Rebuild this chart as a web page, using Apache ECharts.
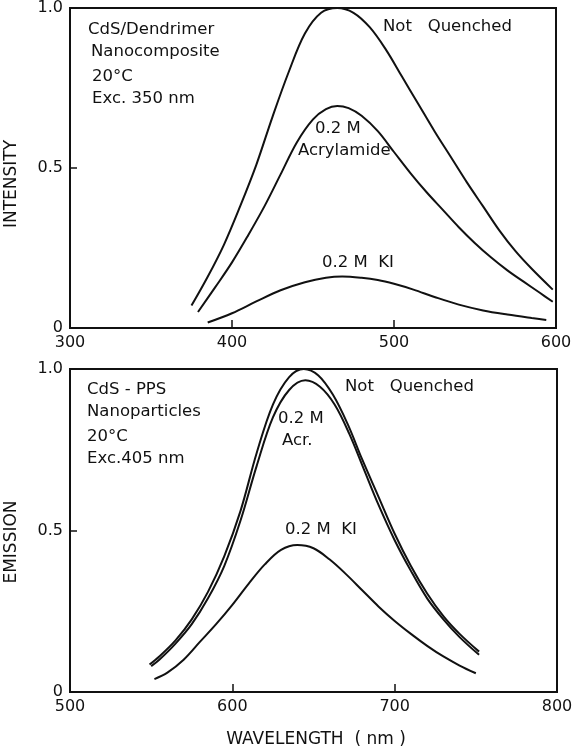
<!DOCTYPE html>
<html><head><meta charset="utf-8">
<script src="https://cdn.jsdelivr.net/npm/echarts@6/dist/echarts.min.js"></script>
<style>html,body{margin:0;padding:0;background:#fff}#c{width:579px;height:750px}</style>
</head><body><div id="c"></div>
<script>
// ---- Top panel: CdS/Dendrimer nanocomposite (intensity vs wavelength) ----
const topXTicks = [300, 400, 500, 600];
const topNqX  = [375, 385, 395, 405, 415, 425, 435, 445, 455, 465, 475, 485, 495, 505, 515, 525, 535, 545, 555, 565, 575, 585, 598];
const topNqY  = [0.07, 0.16, 0.26, 0.38, 0.51, 0.66, 0.80, 0.92, 0.985, 1.0, 0.985, 0.94, 0.87, 0.785, 0.70, 0.615, 0.535, 0.455, 0.38, 0.305, 0.24, 0.185, 0.12];
const topAcrX = [379, 390, 400, 410, 420, 430, 440, 450, 458, 465, 472, 480, 490, 500, 510, 520, 530, 540, 550, 560, 570, 580, 590, 598];
const topAcrY = [0.05, 0.13, 0.205, 0.29, 0.38, 0.48, 0.58, 0.652, 0.684, 0.694, 0.687, 0.663, 0.615, 0.55, 0.485, 0.425, 0.37, 0.315, 0.265, 0.22, 0.18, 0.145, 0.11, 0.082];
const topKiX  = [385, 400, 415, 430, 445, 458, 468, 480, 490, 500, 512, 525, 540, 555, 570, 585, 594];
const topKiY  = [0.017, 0.046, 0.083, 0.118, 0.143, 0.157, 0.161, 0.157, 0.15, 0.138, 0.12, 0.097, 0.073, 0.055, 0.042, 0.031, 0.025];

// ---- Bottom panel: CdS-PPS nanoparticles (emission vs wavelength) ----
const botXTicks = [500, 600, 700, 800];
const botNqX  = [549, 555, 565, 575, 585, 595, 605, 615, 625, 635, 644, 653, 662, 671, 680, 690, 700, 710, 720, 730, 740, 752];
const botNqY  = [0.085, 0.11, 0.16, 0.225, 0.31, 0.42, 0.56, 0.74, 0.89, 0.975, 1.0, 0.98, 0.92, 0.83, 0.72, 0.605, 0.49, 0.39, 0.305, 0.235, 0.18, 0.125];
const botAcrX = [550, 555, 565, 575, 585, 595, 605, 615, 625, 635, 645, 654, 663, 672, 681, 690, 700, 710, 720, 730, 740, 752];
const botAcrY = [0.08, 0.10, 0.15, 0.21, 0.29, 0.39, 0.53, 0.70, 0.85, 0.935, 0.965, 0.945, 0.89, 0.80, 0.69, 0.58, 0.47, 0.375, 0.29, 0.225, 0.17, 0.115];
const botKiX  = [552, 560, 570, 580, 590, 600, 610, 620, 630, 640, 650, 660, 670, 680, 690, 700, 710, 720, 730, 740, 750];
const botKiY  = [0.04, 0.06, 0.1, 0.155, 0.21, 0.27, 0.335, 0.395, 0.44, 0.455, 0.445, 0.41, 0.365, 0.315, 0.265, 0.22, 0.18, 0.143, 0.11, 0.082, 0.058];

const zip = (xs, ys) => xs.map((x, i) => [x, ys[i]]);

const FONT = 'DejaVu Sans';
const black = '#111';

function xAxis(gi, ticks) {
  return {
    type: 'value', gridIndex: gi, min: ticks[0], max: ticks[ticks.length - 1], interval: 100,
    axisLine: { show: true, lineStyle: { color: black, width: 2 } },
    axisTick: { show: true, inside: true, length: 8, lineStyle: { color: black, width: 1.5 } },
    axisLabel: { color: black, fontSize: 16, fontFamily: FONT, margin: 7 },
    splitLine: { show: false }
  };
}
function yAxis(gi) {
  return {
    type: 'value', gridIndex: gi, min: 0, max: 1, interval: 0.5,
    axisLine: { show: true, lineStyle: { color: black, width: 2 } },
    axisTick: { show: true, inside: true, length: 7, lineStyle: { color: black, width: 1.5 } },
    axisLabel: { color: black, fontSize: 16, fontFamily: FONT, margin: 7,
      formatter: v => (v === 0 ? '0' : v.toFixed(1)) },
    splitLine: { show: false }
  };
}
function line(xi, data) {
  return {
    type: 'line', xAxisIndex: xi, yAxisIndex: xi, data: data, smooth: 0.35,
    showSymbol: false, silent: true,
    lineStyle: { color: black, width: 2 }
  };
}
function txt(x, y, s, size) {
  return { type: 'text', left: x, top: y, style: { text: s, font: (size || 16.5) + 'px "' + FONT + '"', fill: black } };
}
function vtxt(cx, cy, s) {
  return { type: 'text', x: cx, y: cy, rotation: Math.PI / 2,
    style: { text: s, font: '17px "' + FONT + '"', fill: black, align: 'center', verticalAlign: 'middle' } };
}

const chart = echarts.init(document.getElementById('c'), null, { renderer: 'canvas' });
chart.setOption({
  animation: false,
  backgroundColor: '#fff',
  grid: [
    { left: 70, top: 8, width: 486, height: 320, show: true, borderColor: black, borderWidth: 2, backgroundColor: 'transparent' },
    { left: 70, top: 369, width: 487, height: 323, show: true, borderColor: black, borderWidth: 2, backgroundColor: 'transparent' }
  ],
  xAxis: [xAxis(0, topXTicks), xAxis(1, botXTicks)],
  yAxis: [yAxis(0), yAxis(1)],
  series: [
    line(0, zip(topNqX, topNqY)),
    line(0, zip(topAcrX, topAcrY)),
    line(0, zip(topKiX, topKiY)),
    line(1, zip(botNqX, botNqY)),
    line(1, zip(botAcrX, botAcrY)),
    line(1, zip(botKiX, botKiY))
  ],
  graphic: [
    vtxt(12, 184, 'INTENSITY'),
    vtxt(12, 542, 'EMISSION'),
    { type: 'text', x: 316, y: 740, style: { text: 'WAVELENGTH  ( nm )', font: '17px "' + FONT + '"', fill: black, align: 'center', verticalAlign: 'middle' } },
    txt(88, 21, 'CdS/Dendrimer'),
    txt(91, 43, 'Nanocomposite'),
    txt(92, 68, '20°C'),
    txt(92, 90, 'Exc. 350 nm'),
    txt(383, 18, 'Not   Quenched'),
    txt(315, 120, '0.2 M'),
    txt(298, 142, 'Acrylamide'),
    txt(322, 254, '0.2 M  KI'),
    txt(87, 381, 'CdS - PPS'),
    txt(87, 403, 'Nanoparticles'),
    txt(87, 428, '20°C'),
    txt(87, 450, 'Exc.405 nm'),
    txt(345, 378, 'Not   Quenched'),
    txt(278, 410, '0.2 M'),
    txt(282, 432, 'Acr.'),
    txt(285, 521, '0.2 M  KI')
  ]
});
</script></body></html>
